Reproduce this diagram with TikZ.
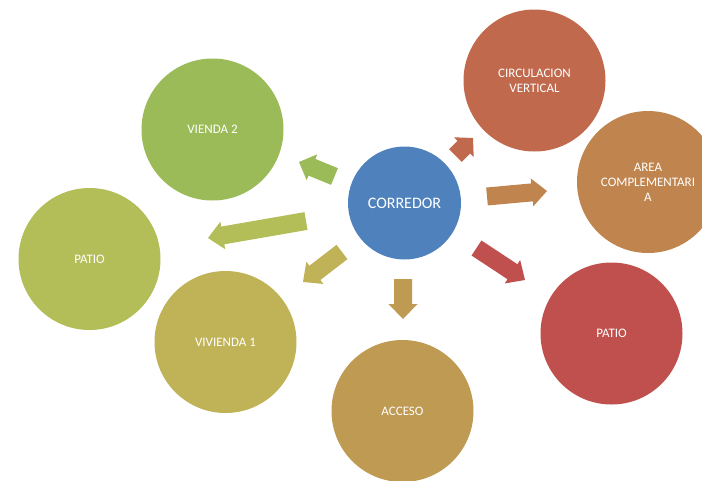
\documentclass[tikz,border=0pt]{standalone}
\usepackage{fontspec}
\setmainfont{Carlito}
\usetikzlibrary{calc}
\definecolor{cblue}{HTML}{4F81BD}
\definecolor{cgreen}{HTML}{9BBB59}
\definecolor{cyg}{HTML}{B3BE58}
\definecolor{colive}{HTML}{BFB257}
\definecolor{cbrown}{HTML}{BE9A52}
\definecolor{cred}{HTML}{C0504D}
\definecolor{corange}{HTML}{C0854F}
\definecolor{crust}{HTML}{C0694D}
\tikzset{
  bubble/.style={circle, minimum size=142pt, inner sep=0pt, text=white, align=center, font=\fontsize{13}{15}\selectfont},
  hub/.style={circle, minimum size=113pt, inner sep=0pt, fill=cblue, text=white, font=\fontsize{16}{19}\selectfont},
}
\newcommand\blockarrow[6]{%
  \coordinate (ba-h) at ($(#3)!#6!(#2)$);
  \fill[#1] ($(#2)!#4!90:(#3)$) -- ($(ba-h)!#4!90:(#3)$) -- ($(ba-h)!#5!90:(#3)$) -- (#3)
    -- ($(ba-h)!#5!-90:(#3)$) -- ($(ba-h)!#4!-90:(#3)$) -- ($(#2)!#4!-90:(#3)$) -- cycle;
}
\begin{document}
\begin{tikzpicture}[x=1pt,y=-1pt]
\useasboundingbox (0,0) rectangle (702,480);
\begin{scope}
\clip (0,0) rectangle (702,480);
\node[hub] (cor) at (404.5,203) {CORREDOR};
\node[bubble, fill=crust] (circ) at (534.5,80.5) {CIRCULACION\\VERTICAL};
\node[bubble, fill=corange] (area) at (648,182) {AREA\\COMPLEMENTARI\\A};
\node[bubble, fill=cred] (patr) at (611.5,333.5) {PATIO};
\node[bubble, fill=cbrown] (acc) at (402.5,411) {ACCESO};
\node[bubble, fill=colive] (viv1) at (225.5,342) {VIVIENDA 1};
\node[bubble, fill=cyg] (patl) at (89.5,259) {PATIO};
\node[bubble, fill=cgreen] (viv2) at (212.5,129.5) {VIENDA 2};
\end{scope}
% arrows
\coordinate (t1) at (455.5,155.5); \coordinate (p1) at (473,138);
\coordinate (t2) at (487,196.5);   \coordinate (p2) at (547,191);
\coordinate (t3) at (476.5,248);   \coordinate (p3) at (525,280);
\coordinate (t4) at (403,279);     \coordinate (p4) at (403,319);
\coordinate (t5) at (342,252);     \coordinate (p5) at (303,282);
\coordinate (t6) at (306,221);     \coordinate (p6) at (208,238);
\coordinate (t7) at (334.5,176.5); \coordinate (p7) at (299,162);
\blockarrow{crust}{t1}{p1}{9pt}{14pt}{13pt}
\blockarrow{corange}{t2}{p2}{9pt}{14pt}{15pt}
\blockarrow{cred}{t3}{p3}{9pt}{14pt}{15pt}
\blockarrow{cbrown}{t4}{p4}{9pt}{14.5pt}{15pt}
\blockarrow{colive}{t5}{p5}{9pt}{14pt}{15pt}
\blockarrow{cyg}{t6}{p6}{9pt}{14pt}{15pt}
\blockarrow{cgreen}{t7}{p7}{9pt}{14pt}{14pt}
\end{tikzpicture}
\end{document}
